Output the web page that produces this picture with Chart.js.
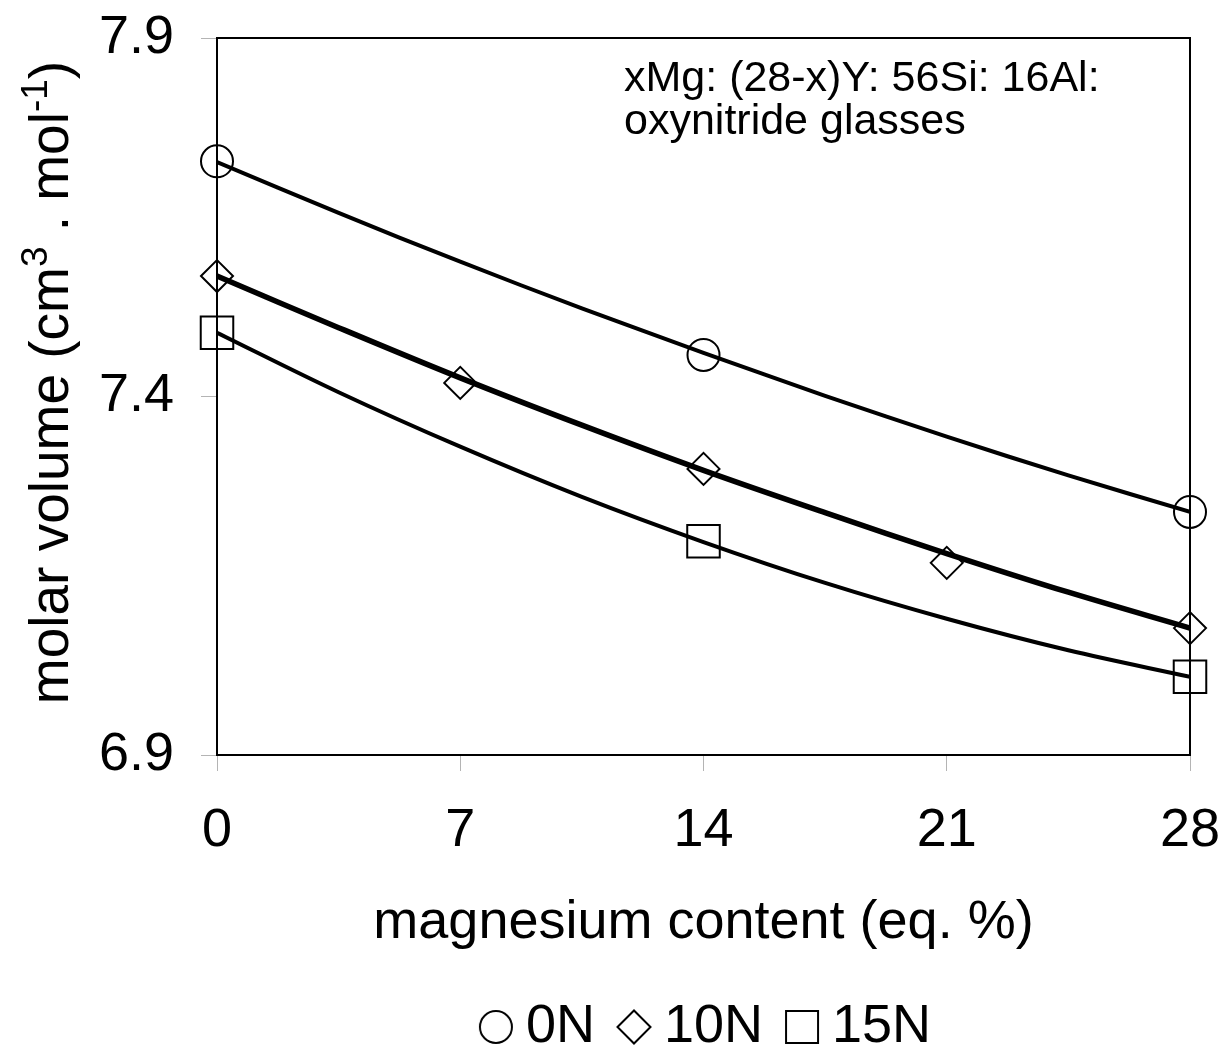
<!DOCTYPE html>
<html>
<head>
<meta charset="utf-8">
<script src="https://cdn.jsdelivr.net/npm/chart.js@4.4.1/dist/chart.umd.min.js"></script>
<style>
  html, body { margin: 0; padding: 0; background: #ffffff; }
  #wrap { width: 1223px; height: 1050px; }
</style>
</head>
<body>
<div id="wrap"><canvas id="c" width="1223" height="1050"></canvas></div>
<script>
// ---------- data ----------
const seriesNames = ['0N', '10N', '15N'];

const mg0N  = [0, 14, 28];
const mv0N  = [7.728, 7.458, 7.239];

const mg10N = [0, 7, 14, 21, 28];
const mv10N = [7.568, 7.419, 7.299, 7.168, 7.077];

const mg15N = [0, 14, 28];
const mv15N = [7.489, 7.198, 7.009];

// fitted trend curves as drawn in the reference (read at these x positions)
const trendMg   = [0, 3.5, 7, 10.5, 14, 17.5, 21, 24.5, 28];
const trend0N   = [7.727, 7.656, 7.588, 7.523, 7.461, 7.401, 7.344, 7.290, 7.239];
const trend10N  = [7.568, 7.496, 7.426, 7.360, 7.297, 7.238, 7.181, 7.127, 7.077];
const trend15N  = [7.489, 7.406, 7.330, 7.260, 7.197, 7.140, 7.090, 7.046, 7.009];

const xTicks = [0, 7, 14, 21, 28];
const yTicks = [6.9, 7.4, 7.9];

const xTitle = 'magnesium content (eq. %)';
const yTitleParts = [['molar volume (cm', false], ['3', true], [' . mol', false], ['-1', true], [')', false]];
const noteLines = ['xMg: (28-x)Y: 56Si: 16Al:', 'oxynitride glasses'];

// ---------- helpers ----------
const FONT = "'Liberation Sans', Arial, Helvetica, sans-serif";
const pts = (xs, ys) => xs.map((x, i) => ({x: x, y: ys[i]}));

function sprite(shape) {
  const c = document.createElement('canvas');
  c.width = 36; c.height = 36;
  const g = c.getContext('2d');
  g.lineWidth = 2; g.strokeStyle = '#000';
  g.beginPath();
  if (shape === 'circle') g.arc(18, 18, 16, 0, Math.PI * 2);
  else if (shape === 'diamond') { g.moveTo(1.5, 18); g.lineTo(18, 1.5); g.lineTo(34.5, 18); g.lineTo(18, 34.5); g.closePath(); }
  else g.rect(2, 2, 32, 32);
  g.stroke();
  return c;
}
const legendSprites = [sprite('circle'), sprite('diamond'), sprite('square')];

const markerBase = {
  showLine: false, borderColor: '#000', backgroundColor: 'rgba(0,0,0,0)',
  borderWidth: 2, pointBorderWidth: 2, clip: false, order: 0
};
const trendBase = {
  showLine: true, borderColor: '#000', backgroundColor: 'rgba(0,0,0,0)',
  pointRadius: 0, pointHoverRadius: 0, tension: 0.35, order: 1, fill: false,
  borderCapStyle: 'round'
};

const datasets = [
  Object.assign({label: seriesNames[0], data: pts(mg0N, mv0N), pointStyle: 'circle', pointRadius: 16}, markerBase),
  Object.assign({label: seriesNames[1], data: pts(mg10N, mv10N), pointStyle: 'rectRot', pointRadius: 16}, markerBase),
  Object.assign({label: seriesNames[2], data: pts(mg15N, mv15N), pointStyle: 'rect', pointRadius: 23}, markerBase),
  Object.assign({label: 'trend 0N', data: pts(trendMg, trend0N), borderWidth: 4}, trendBase),
  Object.assign({label: 'trend 10N', data: pts(trendMg, trend10N), borderWidth: 5.5}, trendBase),
  Object.assign({label: 'trend 15N', data: pts(trendMg, trend15N), borderWidth: 4}, trendBase)
];

// ---------- text plugins (y title with superscripts, annotation) ----------
const textPlugin = {
  id: 'texts',
  afterDraw(chart) {
    const ctx = chart.ctx;
    ctx.save();
    ctx.fillStyle = '#000';
    const main = '55px ' + FONT, sup = '37px ' + FONT;
    let total = 0;
    yTitleParts.forEach(([t, s]) => { ctx.font = s ? sup : main; total += ctx.measureText(t).width; });
    ctx.translate(68, (chart.chartArea.top + chart.chartArea.bottom) / 2 - 14);
    ctx.rotate(-Math.PI / 2);
    ctx.textBaseline = 'alphabetic';
    ctx.textAlign = 'left';
    let x = -total / 2;
    yTitleParts.forEach(([t, s]) => {
      ctx.font = s ? sup : main;
      ctx.fillText(t, x, s ? -21 : 0);
      x += ctx.measureText(t).width;
    });
    ctx.restore();
    ctx.save();
    ctx.fillStyle = '#000';
    ctx.font = '43px ' + FONT;
    ctx.textAlign = 'left';
    ctx.textBaseline = 'alphabetic';
    ctx.fillText(noteLines[0], 624, 91);
    ctx.fillText(noteLines[1], 624, 134);
    ctx.restore();
  }
};

const PADL = 95, PADR = -106;
const chart = new Chart(document.getElementById('c'), {
  type: 'scatter',
  data: { datasets: datasets },
  plugins: [textPlugin],
  options: {
    responsive: false,
    animation: false,
    events: [],
    layout: { padding: { left: PADL, right: PADR, top: 0, bottom: -14 } },
    plugins: {
      tooltip: { enabled: false },
      title: { display: false },
      legend: {
        display: true,
        position: 'bottom',
        align: 'center',
        fullSize: true,
        labels: {
          usePointStyle: true,
          boxWidth: 6,
          boxHeight: 54,
          padding: 36,
          color: '#000',
          font: { size: 54, family: FONT },
          generateLabels: (ch) => seriesNames.map((n, i) => ({
            text: n, datasetIndex: i, pointStyle: legendSprites[i],
            fillStyle: 'rgba(0,0,0,0)', strokeStyle: '#000', lineWidth: 2, hidden: false, fontColor: '#000'
          }))
        }
      }
    },
    scales: {
      x: {
        type: 'linear', position: 'bottom', min: 0, max: 28,
        afterBuildTicks: (s) => { s.ticks = xTicks.map(v => ({value: v})); },
        ticks: { color: '#000', font: { size: 54, family: FONT }, padding: 28, maxRotation: 0, autoSkip: false },
        grid: { drawOnChartArea: false, drawTicks: true, tickLength: 16, color: '#b4b4b4', lineWidth: 1 },
        border: { display: true, color: '#000', width: 2 },
        title: { display: true, text: xTitle, color: '#000', font: { size: 54, family: FONT }, padding: { top: 0, bottom: 8 } },
        afterFit: (s) => { s.height = 209; s.paddingLeft = 0; s.paddingRight = 0; }
      },
      y: {
        type: 'linear', position: 'left', min: 6.9, max: 7.9,
        afterBuildTicks: (s) => { s.ticks = yTicks.map(v => ({value: v})); },
        ticks: { color: '#000', font: { size: 54, family: FONT }, padding: 27, autoSkip: false, callback: (v) => Number(v).toFixed(1) },
        grid: { drawOnChartArea: false, drawTicks: true, tickLength: 16, color: '#b4b4b4', lineWidth: 1 },
        border: { display: true, color: '#000', width: 2 },
        afterFit: (s) => { s.width = 217 - PADL; s.paddingTop = 0; s.paddingBottom = 0; }
      },
      xTop: {
        type: 'linear', position: 'top', min: 0, max: 28, display: true,
        ticks: { display: false }, grid: { display: false, drawTicks: false },
        border: { display: true, color: '#000', width: 2 },
        afterFit: (s) => { s.height = 38; s.paddingLeft = 0; s.paddingRight = 0; }
      },
      yRight: {
        type: 'linear', position: 'right', min: 6.9, max: 7.9, display: true,
        ticks: { display: false }, grid: { display: false, drawTicks: false },
        border: { display: true, color: '#000', width: 2 },
        afterFit: (s) => { s.width = 1223 - PADR - 1190; s.paddingTop = 0; s.paddingBottom = 0; }
      }
    }
  }
});
</script>
</body>
</html>
